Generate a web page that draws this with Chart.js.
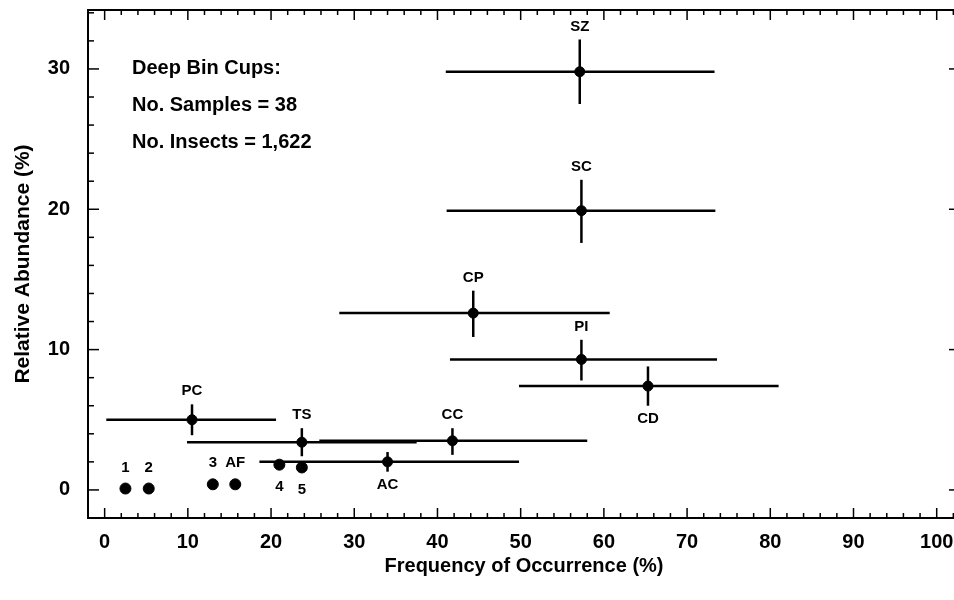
<!DOCTYPE html>
<html>
<head>
<meta charset="utf-8">
<script src="https://cdn.jsdelivr.net/npm/chart.js@4.4.0/dist/chart.umd.min.js"></script>
<style>
  html, body { margin: 0; padding: 0; background: #fff; overflow: hidden; }
  #wrap { width: 975px; height: 600px; }
</style>
</head>
<body>
<div id="wrap"><canvas id="c"></canvas></div>
<script>
// taxa: frequency of occurrence (%) vs relative abundance (%)
const names    = ['SZ', 'SC', 'CP', 'PI', 'CD', 'PC', 'TS', 'CC', 'AC', '1', '2', '3', 'AF', '4', '5'];
const freq     = [57.1, 57.3, 44.3, 57.3, 65.3, 10.5, 23.7, 41.8, 34.0, 2.5, 5.3, 13.0, 15.7, 21.0, 23.7];
const abund    = [29.8, 19.9, 12.6, 9.3, 7.4, 5.0, 3.4, 3.5, 2.0, 0.1, 0.1, 0.4, 0.4, 1.8, 1.6];
// error bar ends (null = no bar)
const freqLow   = [41.0, 41.1, 28.2, 41.5, 49.8, 0.2, 9.9, 25.8, 18.6, null, null, null, null, null, null];
const freqHigh  = [73.3, 73.4, 60.7, 73.6, 81.0, 20.6, 37.5, 58.0, 49.8, null, null, null, null, null, null];
const abundLow  = [27.5, 17.6, 10.9, 7.8, 6.0, 3.9, 2.4, 2.5, 1.3, null, null, null, null, null, null];
const abundHigh = [32.1, 22.1, 14.2, 10.7, 8.8, 6.1, 4.4, 4.4, 2.7, null, null, null, null, null, null];

const xTicks = [0, 10, 20, 30, 40, 50, 60, 70, 80, 90, 100];
const yTicks = [0, 10, 20, 30];
const notes = ['Deep Bin Cups:', 'No. Samples = 38', 'No. Insects = 1,622'];

const labelsBelow = ['CD', 'AC', '4', '5'];
const FONT = 'Liberation Sans, Arial, sans-serif';

function seg(ctx, x1, y1, x2, y2) {
  ctx.beginPath(); ctx.moveTo(x1, y1); ctx.lineTo(x2, y2); ctx.stroke();
}

const errorBars = {
  id: 'errorBars',
  beforeDatasetsDraw(chart) {
    const { ctx, scales: { x, y } } = chart;
    ctx.save();
    ctx.strokeStyle = '#000';
    ctx.lineWidth = 2.5;
    names.forEach((n, i) => {
      if (freqLow[i] == null) return;
      const py = y.getPixelForValue(abund[i]);
      const px = x.getPixelForValue(freq[i]);
      seg(ctx, x.getPixelForValue(freqLow[i]), py, x.getPixelForValue(freqHigh[i]), py);
      seg(ctx, px, y.getPixelForValue(abundLow[i]), px, y.getPixelForValue(abundHigh[i]));
    });
    ctx.restore();
  },
  afterDatasetsDraw(chart) {
    const { ctx, scales: { x, y } } = chart;
    ctx.save();
    ctx.fillStyle = '#000';
    ctx.font = 'bold 15px ' + FONT;
    ctx.textAlign = 'center';
    ctx.textBaseline = 'middle';
    names.forEach((n, i) => {
      const px = x.getPixelForValue(freq[i]);
      const below = labelsBelow.includes(n);
      let py;
      if (freqLow[i] != null) {
        py = below ? y.getPixelForValue(abundLow[i]) + 13 : y.getPixelForValue(abundHigh[i]) - 13;
      } else {
        py = y.getPixelForValue(abund[i]) + (below ? 22 : -21);
      }
      ctx.fillText(n, px, py);
    });
    // note block
    ctx.font = 'bold 20px ' + FONT;
    ctx.textAlign = 'left';
    notes.forEach((t, i) => ctx.fillText(t, 132, 68 + i * 37));
    ctx.restore();
  }
};

const frame = {
  id: 'frame',
  afterDraw(chart) {
    const { ctx, chartArea: a, scales: { x, y } } = chart;
    ctx.save();
    ctx.strokeStyle = '#000';
    ctx.lineWidth = 2;
    ctx.strokeRect(a.left, a.top, a.right - a.left, a.bottom - a.top);
    ctx.lineWidth = 1.5;
    for (let v = 0; v <= 102; v += 2) {
      const px = x.getPixelForValue(v);
      const len = v % 10 === 0 ? 10 : 5;
      seg(ctx, px, a.bottom, px, a.bottom - len);
      seg(ctx, px, a.top, px, a.top + len);
    }
    for (let v = -2; v <= 34; v += 2) {
      const py = y.getPixelForValue(v);
      const len = v % 10 === 0 ? 11 : 6;
      seg(ctx, a.left, py, a.left + len, py);
      seg(ctx, a.right, py, a.right - len, py);
    }
    ctx.restore();
  }
};

new Chart(document.getElementById('c'), {
  type: 'scatter',
  data: {
    datasets: [{
      data: freq.map((f, i) => ({ x: f, y: abund[i] })),
      backgroundColor: '#000',
      borderColor: '#000',
      pointRadius: freq.map((f, i) => freqLow[i] == null ? 5.5 : 5),
      pointHoverRadius: 5
    }]
  },
  options: {
    responsive: true,
    maintainAspectRatio: false,
    animation: false,
    layout: { padding: { top: 10, right: 15, left: 0, bottom: 0 } },
    plugins: { legend: { display: false }, tooltip: { enabled: false } },
    scales: {
      x: {
        type: 'linear', min: -2, max: 102.8,
        grid: { display: false }, border: { display: false },
        afterBuildTicks: s => { s.ticks = xTicks.map(v => ({ value: v })); },
        afterFit: s => { s.height = 82; s.paddingLeft = 0; s.paddingRight = 0; },
        ticks: { color: '#000', padding: 4, maxRotation: 0, font: { family: FONT, size: 20, weight: 'bold' } },
        title: { display: true, text: 'Frequency of Occurrence (%)', color: '#000',
                 font: { family: FONT, size: 20, weight: 'bold' }, padding: { top: 0, bottom: 22 } }
      },
      y: {
        type: 'linear', min: -2, max: 34.2,
        grid: { display: false }, border: { display: false },
        afterBuildTicks: s => { s.ticks = yTicks.map(v => ({ value: v })); },
        afterFit: s => { s.width = 88; s.paddingTop = 0; s.paddingBottom = 0; },
        ticks: { color: '#000', padding: 10, font: { family: FONT, size: 20, weight: 'bold' } },
        title: { display: true, text: 'Relative Abundance (%)', color: '#000',
                 font: { family: FONT, size: 21, weight: 'bold' }, padding: { top: 11, bottom: 0 } }
      }
    }
  },
  plugins: [errorBars, frame]
});
</script>
</body>
</html>
